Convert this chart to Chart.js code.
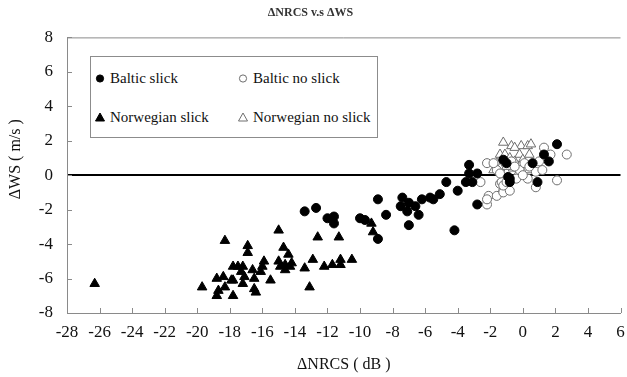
<!DOCTYPE html>
<html>
<head>
<meta charset="utf-8">
<script src="https://cdn.jsdelivr.net/npm/chart.js@4"></script>
<style>
  body { margin: 0; background: #fff; }
  #wrap { position: relative; width: 627px; height: 377px; }
  #legend { position: absolute; left: 90px; top: 56px; width: 286px; height: 80px;
            border: 1px solid #8c8c8c; background: #fff;
            font-family: "Liberation Serif", "Times New Roman", Times, "DejaVu Serif", serif;
            font-size: 15px; color: #111; }
  .item { position: absolute; white-space: nowrap; line-height: 16px; }
  .item svg { position: absolute; left: -15px; top: 3px; }
</style>
</head>
<body>
<div id="wrap">
  <canvas id="chart" width="627" height="377"></canvas>
  <div id="legend"></div>
</div>
<script>
// [ΔNRCS (dB), ΔWS (m/s)]
var balticSlick = [
  [-13.4,-2.1],[-12.7,-1.9],[-12.0,-2.5],[-11.6,-2.4],[-11.6,-2.8],[-10.0,-2.5],[-9.7,-2.6],
  [-8.9,-3.7],[-8.9,-1.4],[-8.4,-2.3],[-7.4,-1.3],[-7.5,-1.8],[-7.1,-2.1],[-7.0,-2.9],
  [-7.0,-1.6],[-6.6,-1.8],[-6.4,-2.3],[-6.2,-1.4],[-5.7,-1.3],[-5.5,-1.4],[-5.1,-1.1],
  [-4.7,-0.4],[-4.0,-0.9],[-4.2,-3.2],[-3.3,0.6],[-3.3,0.1],[-2.8,0.1],[-3.5,-0.4],
  [-3.1,-0.4],[-2.8,-1.7],[2.1,1.8],[1.3,1.2],[1.6,0.8],[0.6,0.7],[0.9,-0.4],
  [-1.0,0.7],[-0.9,-0.1],[-0.8,-0.4],[-1.2,0.9],[-0.8,-0.2]
];
var balticNoSlick = [
  [-2.2,0.7],[-2.6,-0.4],[-1.4,-0.5],[-2.1,-1.2],[-2.2,-1.7],[-1.6,-1.2],[-1.2,-0.9],
  [-1.3,-0.4],[-1.2,-1.0],[-0.8,-0.9],[-0.4,-0.2],[-0.2,0.3],[0.1,0.7],[0.3,-0.2],
  [0.8,0.2],[1.2,0.3],[1.3,1.6],[1.7,1.2],[2.7,1.2],[2.1,-0.3],[0.8,-0.7],[0.0,0.0],
  [0.4,0.5],[-1.6,0.3],[-1.4,0.1],[-1.8,0.7],[-0.7,0.8],[-0.5,0.5],[1.0,0.8],
  [-1.2,-0.6],[-1.0,-0.4],[-2.2,-1.4]
];
var norwegianSlick = [
  [-26.3,-6.3],[-18.3,-3.8],[-19.7,-6.5],[-18.8,-6.0],[-18.4,-5.9],[-17.9,-6.1],[-17.8,-5.3],
  [-17.5,-5.3],[-18.3,-6.5],[-18.8,-7.0],[-17.8,-7.0],[-18.7,-6.7],[-17.2,-5.3],[-17.3,-5.6],
  [-17.1,-5.9],[-17.2,-6.3],[-16.9,-4.1],[-16.9,-4.5],[-16.6,-5.5],[-16.5,-6.0],[-16.5,-6.6],
  [-16.4,-6.8],[-15.9,-5.0],[-16.0,-5.3],[-16.1,-5.6],[-15.5,-6.1],[-15.0,-3.2],[-14.7,-4.2],
  [-14.4,-4.6],[-15.0,-5.0],[-14.9,-5.3],[-14.6,-5.5],[-14.3,-5.3],[-14.2,-5.1],[-14.6,-5.2],
  [-13.4,-5.4],[-13.1,-6.5],[-12.6,-3.6],[-12.9,-4.9],[-12.2,-5.3],[-11.7,-5.2],[-11.3,-3.6],
  [-11.2,-4.9],[-11.2,-5.2],[-10.5,-4.9],[-9.3,-2.8],[-9.2,-3.3],[-17.8,-6.1]
];
var norwegianNoSlick = [
  [-1.2,1.9],[-0.7,1.7],[-0.1,1.7],[0.3,1.7],[0.5,1.8],[-0.5,1.6],[-1.4,1.2],[-1.1,1.2],
  [-0.2,1.2],[0.4,1.2],[-1.6,0.7],[-0.8,1.0],[-0.5,0.8],[0.0,0.9],[-1.8,0.3],[-1.4,0.4],
  [-0.6,0.4],[-0.2,0.5],[0.4,0.3],[-1.0,0.5],[-0.3,0.1]
];

var xMin = -28, xMax = 6, yMin = -8, yMax = 8;

function toPoints(arr) {
  return arr.map(p => ({x: p[0], y: p[1]}));
}

var SERIF = '"Liberation Serif", "Times New Roman", Times, "DejaVu Serif", serif';
var AXIS_GREY = '#8a8a8a';

// inward tick marks + top frame line, like the original
var frameTicks = {
  id: 'frameTicks',
  beforeDatasetsDraw(chart) {
    var ctx = chart.ctx, a = chart.chartArea;
    var xs = chart.scales.x, ys = chart.scales.y;
    ctx.save();
    ctx.strokeStyle = AXIS_GREY;
    ctx.lineWidth = 1;
    ctx.beginPath();
    xs.ticks.forEach(t => {
      var px = Math.round(xs.getPixelForValue(t.value)) + 0.5;
      ctx.moveTo(px, a.bottom);
      ctx.lineTo(px, a.bottom - 5);
    });
    ys.ticks.forEach(t => {
      var py = Math.round(ys.getPixelForValue(t.value)) + 0.5;
      ctx.moveTo(a.left, py);
      ctx.lineTo(a.left + 5, py);
    });
    ctx.moveTo(a.left, a.top + 0.5);
    ctx.lineTo(a.right, a.top + 0.5);
    ctx.stroke();
    ctx.restore();
  }
};

const chart = new Chart(document.getElementById("chart"), {
  type: "scatter",
  data: {
    datasets: [
      {
        label: "Baltic slick",
        data: toPoints(balticSlick),
        pointStyle: "circle",
        pointRadius: 4.5,
        backgroundColor: "#000",
        borderColor: "#000",
        borderWidth: 1,
        order: 1
      },
      {
        label: "Baltic no slick",
        data: toPoints(balticNoSlick),
        pointStyle: "circle",
        pointRadius: 4.5,
        backgroundColor: "#fff",
        borderColor: "#6e6e6e",
        borderWidth: 1,
        order: 3
      },
      {
        label: "Norwegian slick",
        data: toPoints(norwegianSlick),
        pointStyle: "triangle",
        pointRadius: 5.5,
        backgroundColor: "#000",
        borderColor: "#000",
        borderWidth: 1,
        order: 2
      },
      {
        label: "Norwegian no slick",
        data: toPoints(norwegianNoSlick),
        pointStyle: "triangle",
        pointRadius: 5.5,
        backgroundColor: "#fff",
        borderColor: "#6e6e6e",
        borderWidth: 1,
        order: 4
      }
    ]
  },
  options: {
    responsive: false,
    animation: false,
    layout: {padding: {left: 0, right: 6, top: 0, bottom: 0}},
    plugins: {
      legend: {display: false},
      tooltip: {enabled: false},
      title: {
        display: true,
        text: "\u0394NRCS v.s \u0394WS",
        color: "#333",
        font: {family: SERIF, size: 12, weight: "bold"},
        padding: {top: 6, bottom: 17}
      }
    },
    scales: {
      x: {
        type: "linear",
        min: xMin, max: xMax,
        ticks: {stepSize: 2, color: "#111", font: {family: SERIF, size: 17}, padding: 1, maxRotation: 0, autoSkip: false},
        grid: {display: false},
        border: {color: AXIS_GREY, width: 1},
        title: {display: true, text: "\u0394NRCS ( dB )", color: "#111",
                font: {family: SERIF, size: 16}, padding: {top: 0, bottom: 3}},
        afterFit: s => { s.height = 64; }
      },
      y: {
        type: "linear",
        min: yMin, max: yMax,
        ticks: {stepSize: 2, color: "#111", font: {family: SERIF, size: 17}, padding: 14},
        grid: {
          drawTicks: false,
          color: c => c.tick && c.tick.value === 0 ? "#000" : "rgba(0,0,0,0)",
          lineWidth: c => c.tick && c.tick.value === 0 ? 2 : 0
        },
        border: {color: AXIS_GREY, width: 1},
        title: {display: true, text: "        \u0394WS ( m/s )", color: "#111",
                font: {family: SERIF, size: 16}, padding: {top: 6, bottom: 0}},
        afterFit: s => { s.width = 67; }
      }
    }
  },
  plugins: [frameTicks]
});

// legend box inside the plot, two columns like the original
var legend = document.getElementById("legend");
chart.data.datasets.forEach((ds, i) => {
  var col = i % 2, row = Math.floor(i / 2);
  var item = document.createElement("div");
  item.className = "item";
  item.style.left = (col === 0 ? 19 : 162) + "px";
  item.style.top = (row === 0 ? 13 : 52) + "px";
  var shape = ds.pointStyle === "triangle"
    ? '<polygon points="5,1 9.5,9 0.5,9" fill="' + ds.backgroundColor + '" stroke="' + ds.borderColor + '" stroke-width="1"/>'
    : '<circle cx="5" cy="5.5" r="3.6" fill="' + ds.backgroundColor + '" stroke="' + ds.borderColor + '" stroke-width="1"/>';
  item.innerHTML = '<svg width="10" height="10">' + shape + '</svg>' + ds.label;
  legend.appendChild(item);
});
</script>
</body>
</html>
